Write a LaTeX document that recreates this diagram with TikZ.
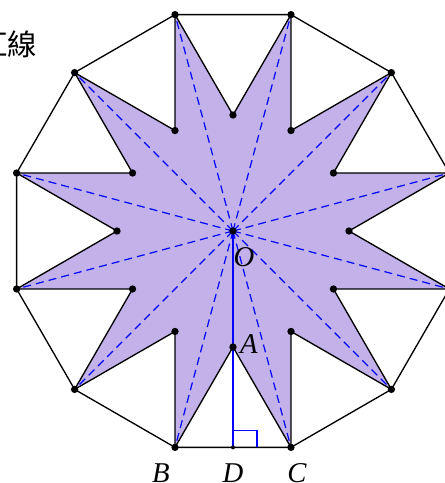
\documentclass[tikz,border=0pt]{standalone}
\usepackage{fontspec}
\setmainfont{Liberation Serif}
\newfontfamily\cjk{Noto Sans CJK TC}
\definecolor{starfill}{RGB}{195,177,234}
\usetikzlibrary{calc}

\begin{document}
\begin{tikzpicture}[x=0.75pt,y=0.75pt,
    dot/.style={circle,fill=black,inner sep=0pt,minimum size=5.5pt},
    lbl/.style={font=\fontsize{21.5}{21.5}\selectfont\itshape}]
    \useasboundingbox (-233,-252) rectangle (211,231);
    \coordinate (O) at (0,0);
    \foreach \k in {0,...,11}{
        \coordinate (v\k) at ({15+30*\k}:224);
        \coordinate (w\k) at ({30*\k}:116);
    }
    \coordinate (D) at ($(v8)!0.5!(v9)$);

    % star
    \fill[starfill] (w0) -- (v0) \foreach \k in {1,...,11}{ -- (w\k) -- (v\k)} -- cycle;
    \foreach \k in {0,...,11}
        \draw[blue, dashed, dash pattern=on 6pt off 3.8pt, line width=0.9pt] (O) -- (v\k);
    \draw[line width=1pt] (w0) -- (v0) \foreach \k in {1,...,11}{ -- (w\k) -- (v\k)} -- cycle;
    \draw[line width=1pt] (v0) \foreach \k in {1,...,11}{ -- (v\k)} -- cycle;

    % height and right angle
    \draw[blue, line width=0.9pt] (O) -- (D);
    \draw[blue, line width=0.8pt] ($(D)+(0,17)$) -- ++(24,0) -- ++(0,-17);

    \foreach \k in {0,...,11}{
        \node[dot] (pv\k) at (v\k) {};
        \node[dot] (pw\k) at (w\k) {};
    }
    \node[dot] (pO) at (O) {};
    \node[dot, minimum size=3pt] (pD) at (D) {};

    \node[lbl] (lO) at (11,-26) {O};
    \node[lbl] (lA) at (16,-113) {A};
    \node[lbl] (lB) at (-72,-242) {B};
    \node[lbl] (lD) at (0,-242) {D};
    \node[lbl] (lC) at (64,-242) {C};
    \node[font=\cjk\fontsize{22}{22}\selectfont] (title) at (-225.5,187) {紅線};
\end{tikzpicture}
\end{document}
